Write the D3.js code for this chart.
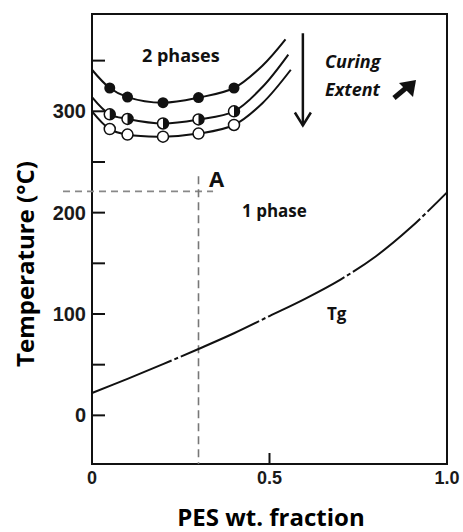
<!DOCTYPE html>
<html>
<head>
<meta charset="utf-8">
<script src="https://cdn.jsdelivr.net/npm/d3@7"></script>
<style>
  body { margin: 0; background: #fff; }
  svg { display: block; }
</style>
</head>
<body>
<div id="chart"></div>
<script>
// tick values
const xTicks = [0, 0.5, 1.0];
const xTickLabels = ['0', '0.5', '1.0'];
const yTicks = [0, 50, 100, 150, 200, 250, 300, 350];
const yTickLabels = ['0', '', '100', '', '200', '', '300', ''];

// measured points (PES fraction) on the cloud-point curves
const markerX = [0.05, 0.1, 0.2, 0.3, 0.4];
const solidT = [323, 314, 308.5, 313.5, 323];
const halfT = [297, 292.5, 288, 292, 300];
const openT = [282.5, 277, 275, 278, 286.5];

// the three fitted curves
const curveTopX = [0, 0.05, 0.1, 0.2, 0.3, 0.4, 0.48, 0.545];
const curveTopT = [341, 323, 314, 308.5, 313.5, 323, 345, 371];
const curveMidX = [0, 0.05, 0.1, 0.2, 0.3, 0.4, 0.48, 0.553];
const curveMidT = [314, 297, 292.5, 288, 292, 300, 324, 356];
const curveLowX = [0, 0.05, 0.1, 0.2, 0.3, 0.4, 0.48, 0.56];
const curveLowT = [300, 282.5, 277, 275, 278, 286.5, 308, 341];

// glass transition
const tgX = [0, 0.1, 0.2, 0.3, 0.4, 0.5, 0.6, 0.7, 0.8, 0.9, 1.0];
const tgT = [22, 36, 50.5, 65.5, 81, 98, 115, 134, 157, 186, 220];

// point A
const pointA = { x: 0.3, t: 221 };

const width = 463, height = 532;
const svg = d3.select('#chart').append('svg')
  .attr('width', width)
  .attr('height', height);

const x = d3.scaleLinear().domain([0, 1]).range([92, 447]);
const y = d3.scaleLinear().domain([-48, 396]).range([464, 14]);

const ink = '#111';
const font = '"Open Sans", sans-serif';

// frame
svg.append('rect')
  .attr('x', x(0)).attr('y', y(396))
  .attr('width', x(1) - x(0)).attr('height', y(-48) - y(396))
  .attr('fill', 'none').attr('stroke', ink).attr('stroke-width', 2);

// y ticks (inward)
svg.selectAll('line.ytick')
  .data(yTicks)
  .enter().append('line')
  .attr('class', 'ytick')
  .attr('x1', x(0)).attr('x2', x(0) + 13)
  .attr('y1', d => y(d)).attr('y2', d => y(d))
  .attr('stroke', ink).attr('stroke-width', 2);

svg.selectAll('text.ylab')
  .data(yTicks)
  .enter().append('text')
  .attr('class', 'ylab')
  .attr('x', x(0) - 6)
  .attr('y', d => y(d) + 7)
  .attr('text-anchor', 'end')
  .style('font-family', 'Liberation Sans, Arial, sans-serif')
  .style('font-weight', 'bold')
  .style('font-size', '20px')
  .attr('fill', '#1a1a1a')
  .text((d, i) => yTickLabels[i]);

// x ticks (inward)
svg.selectAll('line.xtick')
  .data(xTicks)
  .enter().append('line')
  .attr('class', 'xtick')
  .attr('x1', d => x(d)).attr('x2', d => x(d))
  .attr('y1', y(-48)).attr('y2', y(-48) - 11)
  .attr('stroke', ink).attr('stroke-width', 2);

svg.selectAll('text.xlab')
  .data(xTicks)
  .enter().append('text')
  .attr('class', 'xlab')
  .attr('x', d => x(d))
  .attr('y', y(-48) + 20)
  .attr('text-anchor', 'middle')
  .style('font-family', 'Liberation Sans, Arial, sans-serif')
  .style('font-weight', 'bold')
  .style('font-size', '18px')
  .attr('fill', '#1a1a1a')
  .text((d, i) => xTickLabels[i]);

// axis titles
svg.append('text')
  .attr('transform', `translate(34,264) rotate(-90)`)
  .attr('text-anchor', 'middle')
  .style('font-family', font)
  .style('font-weight', 'bold')
  .style('font-size', '24px')
  .text('Temperature (°C)');

svg.append('text')
  .attr('x', 271).attr('y', 526)
  .attr('text-anchor', 'middle')
  .style('font-family', font)
  .style('font-weight', 'bold')
  .style('font-size', '24px')
  .text('PES wt. fraction');

// dashed guide lines to point A
svg.append('line')
  .attr('x1', 63).attr('x2', x(0.341))
  .attr('y1', y(pointA.t)).attr('y2', y(pointA.t))
  .attr('stroke', '#888').attr('stroke-width', 1.6)
  .attr('stroke-dasharray', '7,5');
svg.append('line')
  .attr('x1', x(pointA.x)).attr('x2', x(pointA.x))
  .attr('y1', y(236)).attr('y2', y(-48))
  .attr('stroke', '#777').attr('stroke-width', 1.6)
  .attr('stroke-dasharray', '8,5');

// curves
const line = d3.line()
  .x(d => x(d[0])).y(d => y(d[1]))
  .curve(d3.curveCatmullRom.alpha(0.5));

[[curveTopX, curveTopT], [curveMidX, curveMidT], [curveLowX, curveLowT]].forEach(([xs, ts]) => {
  svg.append('path')
    .datum(xs.map((v, i) => [v, ts[i]]))
    .attr('d', line)
    .attr('fill', 'none')
    .attr('stroke', ink)
    .attr('stroke-width', 2);
});

svg.append('path')
  .datum(tgX.map((v, i) => [v, tgT[i]]))
  .attr('d', line)
  .attr('fill', 'none')
  .attr('stroke', ink)
  .attr('stroke-width', 2)
  .attr('stroke-dasharray', '86,3,4,3');

// markers
const r = 5.5;
svg.selectAll('circle.solid')
  .data(markerX)
  .enter().append('circle')
  .attr('class', 'solid')
  .attr('cx', d => x(d)).attr('cy', (d, i) => y(solidT[i]))
  .attr('r', r).attr('fill', ink);

const half = svg.selectAll('g.half')
  .data(markerX)
  .enter().append('g')
  .attr('class', 'half')
  .attr('transform', (d, i) => `translate(${x(d)},${y(halfT[i])})`);
half.append('circle').attr('r', r).attr('fill', '#fff').attr('stroke', ink).attr('stroke-width', 1.5);
half.append('path')
  .attr('d', `M0,${-r} A${r},${r} 0 0,1 0,${r} Z`)
  .attr('fill', ink);

svg.selectAll('circle.open')
  .data(markerX)
  .enter().append('circle')
  .attr('class', 'open')
  .attr('cx', d => x(d)).attr('cy', (d, i) => y(openT[i]))
  .attr('r', r).attr('fill', '#fff')
  .attr('stroke', ink).attr('stroke-width', 1.5);

// curing arrow
const ax = x(0.594);
svg.append('line')
  .attr('x1', ax).attr('x2', ax)
  .attr('y1', y(377)).attr('y2', y(286))
  .attr('stroke', ink).attr('stroke-width', 2.5);
svg.append('path')
  .attr('d', `M${ax - 8},${y(286) - 13} L${ax},${y(286)} L${ax + 8},${y(286) - 13}`)
  .attr('fill', 'none').attr('stroke', ink).attr('stroke-width', 2.5);

// annotations
const note = (txt, px, py, size, italic) => svg.append('text')
  .attr('x', px).attr('y', py)
  .style('font-family', font)
  .style('font-weight', 'bold')
  .style('font-style', italic ? 'italic' : 'normal')
  .style('font-size', size + 'px')
  .attr('fill', ink)
  .text(txt);

note('2 phases', 142, 62, 18);
note('Curing', 325, 68, 18, true);
note('Extent', 325, 96, 18, true);
note('A', 209, 187, 22);
note('1 phase', 242, 217, 17);
note('Tg', 327, 320, 17);

// small bold NE arrow after "Extent"
svg.append('line')
  .attr('x1', 394).attr('y1', 98).attr('x2', 406).attr('y2', 88)
  .attr('stroke', ink).attr('stroke-width', 5);
svg.append('path')
  .attr('d', 'M416,80 L399,83 L413,97 Z')
  .attr('fill', ink);
</script>
</body>
</html>
